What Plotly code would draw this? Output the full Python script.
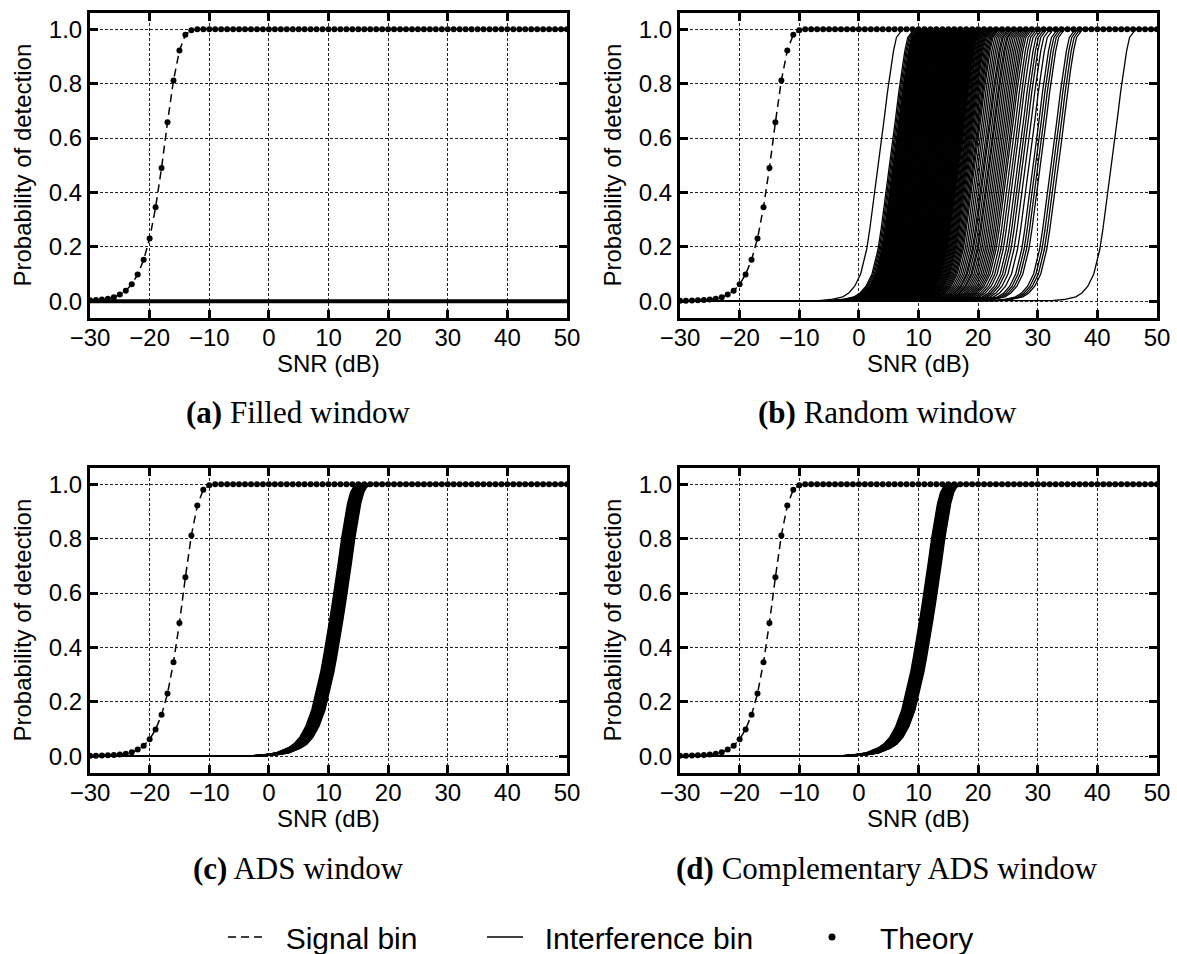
import plotly.graph_objects as go

# ---------------- data ----------------
snr = list(range(-30, 51))  # SNR grid in dB (1 dB steps)

# Theory / signal-bin Pd for the filled window (panel a)
theory_a = [0.003, 0.004, 0.006, 0.009, 0.014, 0.024, 0.038, 0.062, 0.098, 0.152,
            0.230, 0.345, 0.490, 0.658, 0.812, 0.922, 0.980, 0.997,
            1.0, 1.0, 1.0, 1.0, 1.0, 1.0, 1.0, 1.0, 1.0, 1.0, 1.0, 1.0, 1.0, 1.0, 1.0, 1.0,
            1.0, 1.0, 1.0, 1.0, 1.0, 1.0, 1.0, 1.0, 1.0, 1.0, 1.0, 1.0, 1.0, 1.0, 1.0, 1.0,
            1.0, 1.0, 1.0, 1.0, 1.0, 1.0, 1.0, 1.0, 1.0, 1.0, 1.0, 1.0, 1.0, 1.0, 1.0, 1.0,
            1.0, 1.0, 1.0, 1.0, 1.0, 1.0, 1.0, 1.0, 1.0, 1.0, 1.0, 1.0, 1.0, 1.0, 1.0]

# Theory / signal-bin Pd for random, ADS and complementary ADS windows (panels b-d)
theory_bcd = [0.001, 0.0015, 0.002, 0.003, 0.004, 0.006, 0.009, 0.014, 0.024, 0.038,
              0.062, 0.098, 0.152, 0.230, 0.345, 0.490, 0.658, 0.812, 0.922, 0.980, 0.997,
              1.0, 1.0, 1.0, 1.0, 1.0, 1.0, 1.0, 1.0, 1.0, 1.0, 1.0, 1.0, 1.0, 1.0, 1.0,
              1.0, 1.0, 1.0, 1.0, 1.0, 1.0, 1.0, 1.0, 1.0, 1.0, 1.0, 1.0, 1.0, 1.0, 1.0,
              1.0, 1.0, 1.0, 1.0, 1.0, 1.0, 1.0, 1.0, 1.0, 1.0, 1.0, 1.0, 1.0, 1.0, 1.0,
              1.0, 1.0, 1.0, 1.0, 1.0, 1.0, 1.0, 1.0, 1.0, 1.0, 1.0, 1.0, 1.0, 1.0, 1.0]

# Interference bin, filled window: Pd stays at zero everywhere
interf_a_x = [-30, 50]
interf_a_y = [0.0, 0.0]

# Interference-bin curve shape: Pd versus offset (dB) from each curve's 50 % point
shape_b_off = [-80, -10, -8, -6, -5, -4, -3, -2, -1.5, -1, -0.5, 0, 0.5, 1, 1.5, 2, 2.5, 3, 4, 80]
shape_b_pd = [0.0, 0.002, 0.006, 0.016, 0.03, 0.055, 0.1, 0.19, 0.26, 0.34, 0.42, 0.5,
              0.59, 0.68, 0.77, 0.85, 0.92, 0.97, 1.0, 1.0]
# 50 % points (dB) of the interference-bin curves, random window
mids_b = [3.3, 5.2, 5.4, 5.6, 5.8, 5.9, 6.0, 6.1, 6.2, 6.3, 6.4, 6.5, 6.6, 6.7, 6.8, 6.9,
          7.0, 7.1, 7.2, 7.3, 7.4, 7.5, 7.6, 7.7, 7.8, 7.9, 8.0, 8.1, 8.2, 8.3, 8.4, 8.5,
          8.6, 8.7, 8.8, 8.9, 9.0, 9.1, 9.2, 9.3, 9.4, 9.5, 9.6, 9.7, 9.8, 9.9, 10.0, 10.1,
          10.2, 10.3, 10.4, 10.5, 10.6, 10.7, 10.8, 10.9, 11.0, 11.1, 11.2, 11.3, 11.4, 11.5,
          11.6, 11.7, 11.8, 11.9, 12.0, 12.1, 12.2, 12.3, 12.4, 12.5, 12.6, 12.7, 12.8, 12.9,
          13.0, 13.1, 13.2, 13.3, 13.4, 13.5, 13.6, 13.7, 13.8, 13.9, 14.0, 14.1, 14.2, 14.3,
          14.4, 14.5, 14.6, 14.7, 14.8, 14.9, 15.0, 15.1, 15.2, 15.3, 15.4, 15.5, 15.6, 15.7,
          15.8, 15.9, 16.0, 16.1, 16.2, 16.3, 16.4, 16.5, 16.6, 16.7, 16.8, 16.95, 17.1,
          17.25, 17.4, 17.55, 17.7, 17.85, 18.0, 18.15, 18.3, 18.5, 18.7, 18.9, 19.1, 19.3,
          19.5, 19.8, 20.1, 20.4, 20.7, 21.0, 21.2, 21.5, 21.8, 22.0, 22.3, 22.6, 22.9, 23.2,
          23.5, 23.8, 24.1, 24.4, 24.7, 25.0, 25.4, 25.8, 26.2, 26.7, 27.1, 27.5, 28.0, 28.6,
          29.3, 29.7, 30.1, 30.5, 32.3, 32.7, 33.1, 33.5, 42.4]

shape_c_off = [-80, -14, -11, -9, -7, -6, -5, -4, -3, -2, -1.5, -1, -0.5, 0, 0.5, 1, 1.5,
               2, 2.5, 3, 3.5, 4, 5, 80]
shape_c_pd = [0.0, 0.0, 0.005, 0.012, 0.03, 0.045, 0.07, 0.11, 0.17, 0.26, 0.31, 0.37,
              0.43, 0.5, 0.57, 0.64, 0.72, 0.8, 0.87, 0.93, 0.97, 0.99, 1.0, 1.0]
# 50 % points (dB), ADS window
mids_c = [10.2, 10.3, 10.4, 10.5, 10.6, 10.7, 10.8, 10.9, 11.0, 11.1, 11.2, 11.3,
          11.4, 11.5, 11.6, 11.7, 11.8, 11.9, 12.0, 12.1, 12.2, 12.3, 12.4]
# 50 % points (dB), complementary ADS window
mids_d = [10.2, 10.3, 10.4, 10.5, 10.6, 10.7, 10.8, 10.9, 11.0, 11.1, 11.2, 11.3,
          11.4, 11.5, 11.6, 11.7, 11.8, 11.9, 12.0, 12.1, 12.2, 12.3, 12.4]

captions = ["<b>(a)</b> Filled window", "<b>(b)</b> Random window",
            "<b>(c)</b> ADS window", "<b>(d)</b> Complementary ADS window"]
legend_names = ["Signal bin", "Interference bin", "Theory"]
x_ticks = [-30, -20, -10, 0, 10, 20, 30, 40, 50]
y_ticks = [0.0, 0.2, 0.4, 0.6, 0.8, 1.0]
y_ticktext = ["0.0", "0.2", "0.4", "0.6", "0.8", "1.0"]


def curve_family(mids, off, pd):
    xs, ys = [], []
    for m in mids:
        xs += [m + o for o in off] + [None]
        ys += list(pd) + [None]
    return xs, ys


# ---------------- figure ----------------
W, H = 1177, 954
SANS = "Liberation Sans, Arial, sans-serif"
SERIF = "Liberation Serif, Times New Roman, serif"
DASH = "8px,5px"
NB = "\u00a0"
fig = go.Figure()

panels = [
    dict(xa="x", ya="y", theory=theory_a, interf=(interf_a_x, interf_a_y, 4)),
    dict(xa="x2", ya="y2", theory=theory_bcd, interf=curve_family(mids_b, shape_b_off, shape_b_pd) + (1.3,)),
    dict(xa="x3", ya="y3", theory=theory_bcd, interf=curve_family(mids_c, shape_c_off, shape_c_pd) + (1.4,)),
    dict(xa="x4", ya="y4", theory=theory_bcd, interf=curve_family(mids_d, shape_c_off, shape_c_pd) + (1.4,)),
]

for i, p in enumerate(panels):
    ix, iy, iw = p["interf"]
    fig.add_trace(go.Scatter(x=ix, y=iy, mode="lines", xaxis=p["xa"], yaxis=p["ya"],
                             line=dict(color="black", width=iw), name=legend_names[1],
                             showlegend=False, connectgaps=False, hoverinfo="skip"))
    fig.add_trace(go.Scatter(x=snr, y=p["theory"], mode="lines", xaxis=p["xa"], yaxis=p["ya"],
                             line=dict(color="black", width=1.5, dash=DASH),
                             name=legend_names[0], showlegend=False))
    fig.add_trace(go.Scatter(x=snr, y=p["theory"], mode="markers", xaxis=p["xa"], yaxis=p["ya"],
                             marker=dict(color="black", size=6), name=legend_names[2],
                             showlegend=False))

# legend-only entries, each in its own legend box
fig.add_trace(go.Scatter(x=[None], y=[None], mode="lines", line=dict(color="black", width=1.5, dash=DASH),
                         name=NB * 2 + legend_names[0], legend="legend"))
fig.add_trace(go.Scatter(x=[None], y=[None], mode="lines", line=dict(color="black", width=1.5),
                         name=NB * 2 + legend_names[1], legend="legend2"))
fig.add_trace(go.Scatter(x=[None], y=[None], mode="markers", marker=dict(color="black", size=7),
                         name=NB * 3 + legend_names[2], legend="legend3"))

xdom = [[90 / W, 567 / W], [680 / W, 1157 / W]]
ydom = [[1 - 318 / H, 1 - 13 / H], [1 - 773 / H, 1 - 468 / H]]

tickfont = dict(family=SANS, size=24, color="black")
common = dict(showline=True, linewidth=3, linecolor="black", mirror="ticks",
              ticks="inside", ticklen=8, tickwidth=3, tickcolor="black",
              showgrid=True, gridcolor="#222222", gridwidth=1, griddash="3px,2px",
              zeroline=False, tickfont=tickfont, automargin=False)

layout = dict(template="none", width=W, height=H, margin=dict(l=0, r=0, t=0, b=0, autoexpand=False),
              paper_bgcolor="white", plot_bgcolor="white", showlegend=True)
anns = []
for k in range(4):
    r, c = divmod(k, 2)
    sx = "" if k == 0 else str(k + 1)
    layout["xaxis" + sx] = dict(domain=xdom[c], anchor="y" + sx, range=[-30, 50],
                                tickvals=x_ticks, ticklabelstandoff=-4, **common)
    layout["yaxis" + sx] = dict(domain=ydom[r], anchor="x" + sx, range=[-0.062, 1.06],
                                tickvals=y_ticks, ticktext=y_ticktext, **common)
    xc = (xdom[c][0] + xdom[c][1]) / 2
    yc = (ydom[r][0] + ydom[r][1]) / 2
    anns.append(dict(text="SNR (dB)", x=xc, y=ydom[r][0] - 46 / H, xref="paper", yref="paper",
                     showarrow=False, xanchor="center", yanchor="middle",
                     font=dict(family=SANS, size=24, color="black")))
    anns.append(dict(text="Probability of detection", x=xdom[c][0] - 68 / W, y=yc,
                     xref="paper", yref="paper", showarrow=False, textangle=-90,
                     xanchor="center", yanchor="middle",
                     font=dict(family=SANS, size=24, color="black")))
    cap_x = (298 if c == 0 else 887) / W
    cap_y = 1 - (413 if r == 0 else 868) / H
    anns.append(dict(text=captions[k], x=cap_x, y=cap_y, xref="paper", yref="paper",
                     showarrow=False, xanchor="center", yanchor="middle",
                     font=dict(family=SERIF, size=31, color="black")))

layout["annotations"] = anns
leg_common = dict(orientation="h", y=1 - 937 / H, yanchor="middle", xanchor="left",
                  font=dict(family=SANS, size=30, color="black"), bgcolor="rgba(0,0,0,0)",
                  itemwidth=36)
layout["legend"] = dict(x=223 / W, **leg_common)
layout["legend2"] = dict(x=482 / W, **leg_common)
layout["legend3"] = dict(x=809 / W, **leg_common)
fig.update_layout(**layout)

fig.write_html("out.html", config={"displayModeBar": False},
               post_script="document.body.style.margin='0px';")
